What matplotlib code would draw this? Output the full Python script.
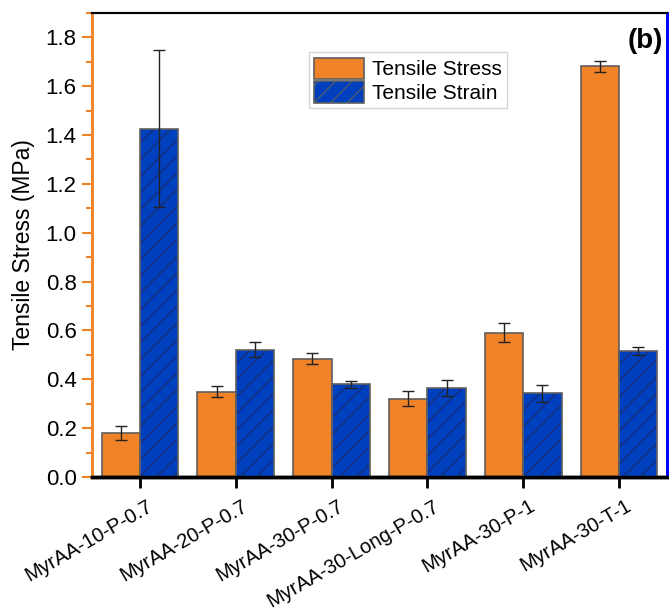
import numpy as np
import matplotlib.pyplot as plt
from matplotlib.ticker import MultipleLocator
from matplotlib.transforms import ScaledTranslation

plt.rcParams['font.family'] = ['Liberation Sans', 'DejaVu Sans']
plt.rcParams['hatch.linewidth'] = 0.8

# samples
labels = ['MyrAA-10-P-0.7', 'MyrAA-20-P-0.7', 'MyrAA-30-P-0.7',
          'MyrAA-30-Long-P-0.7', 'MyrAA-30-P-1', 'MyrAA-30-T-1']

# tensile stress (MPa)
stress = [0.18, 0.35, 0.484, 0.32, 0.591, 1.681]
stress_err = [0.03, 0.021, 0.022, 0.031, 0.04, 0.023]

# tensile strain (%)
strain = [826, 302, 220, 211, 198, 299]
strain_err = [185, 17, 8, 18, 20, 10]

orange = '#F08228'
blue = '#0040BF'
edge = '#5f5f5f'

x = np.arange(len(labels))
w = 0.4

fig = plt.figure(figsize=(6.69, 6.16), dpi=100)
ax = fig.add_axes([0.1375, 0.2256, 0.8595, 0.7534])
ax2 = ax.twinx()

b1 = ax.bar(x - w / 2, stress, w, color=orange, edgecolor=edge, linewidth=1.2,
            yerr=stress_err, capsize=4,
            error_kw=dict(ecolor='#222222', elinewidth=1, capthick=1))

# hatched fill first, then the grey outline on top
ax2.bar(x + w / 2, strain, w, color=blue, edgecolor='#1c2c66', linewidth=0,
        hatch='//')
b2 = ax2.bar(x + w / 2, strain, w, facecolor='none', edgecolor=edge,
             linewidth=1.2, yerr=strain_err, capsize=4,
             error_kw=dict(ecolor='#222222', elinewidth=1, capthick=1))

ax.set_xlim(-0.5, 5.5)
ax.set_ylim(0, 1.9)
ax2.set_ylim(0, 1100)

ax.yaxis.set_minor_locator(MultipleLocator(0.1))
yt = np.arange(0, 1.81, 0.2)
ax.set_yticks(yt)
ax.set_yticklabels([f'{v:.1f}' for v in yt])
ax.tick_params(axis='y', which='major', direction='out', length=7, width=1.5,
               color=orange, labelsize=16, pad=4)
ax.tick_params(axis='y', which='minor', direction='out', length=4, width=1.5,
               color=orange)
ax.set_ylabel('Tensile Stress (MPa)', fontsize=16.5, labelpad=8)

ax.set_xticks(x)
ax.set_xticklabels(labels, rotation=30, ha='right', rotation_mode='anchor',
                   fontsize=14.5)
ax.tick_params(axis='x', direction='out', length=8, width=2, pad=6)
shift = ScaledTranslation(6 / 100, 0, fig.dpi_scale_trans)
for t in ax.get_xticklabels():
    t.set_transform(t.get_transform() + shift)

ax2.yaxis.set_major_locator(MultipleLocator(100))
ax2.tick_params(axis='y', direction='out', length=7, width=1.5, color='blue',
                labelright=False)

for a in (ax, ax2):
    a.spines['left'].set_color(orange)
    a.spines['left'].set_linewidth(1.8)
    a.spines['right'].set_color('blue')
    a.spines['right'].set_linewidth(2)
    a.spines['top'].set_linewidth(1.5)
    a.spines['bottom'].set_linewidth(2.5)

ax2.text(0.993, 0.94, '(b)', transform=ax2.transAxes, ha='right', va='center',
         fontsize=20, fontweight='bold')

leg = ax2.legend([b1, b2.patches[0]], ['Tensile Stress', 'Tensile Strain'],
                 loc='upper left', bbox_to_anchor=(0.377, 0.915),
                 fontsize=15, frameon=True, fancybox=False,
                 handlelength=2.4, handleheight=1.2, borderpad=0.25,
                 labelspacing=0.1, handletextpad=0.4, borderaxespad=0)
leg.get_frame().set_edgecolor('#cccccc')
leg.get_frame().set_linewidth(1)
# legend swatch for strain shows the hatched blue fill
h = leg.legend_handles[1]
h.set_facecolor(blue)
h.set_hatch('//')
h.set_edgecolor(edge)

fig.savefig('out.png', dpi=100)
